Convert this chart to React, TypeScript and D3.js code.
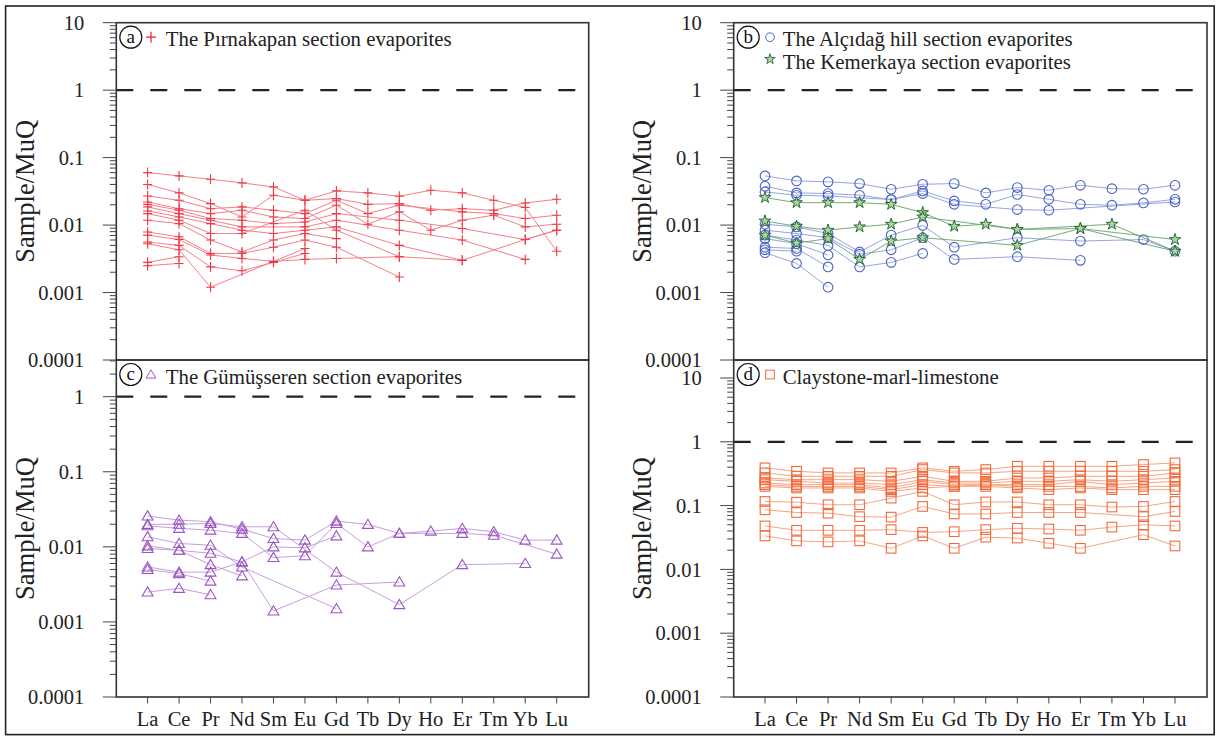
import React from "react";
import * as d3 from "d3";

// Rare earth elements along the x axis
const REE = ["La", "Ce", "Pr", "Nd", "Sm", "Eu", "Gd", "Tb", "Dy", "Ho", "Er", "Tm", "Yb", "Lu"];

// Decade tick values and labels of the log axis
const DECADES = [10, 1, 0.1, 0.01, 0.001, 0.0001];
const DECADE_LABELS = ["10", "1", "0.1", "0.01", "0.001", "0.0001"];

type Row = (number | null)[];

// (a) Pırnakapan section evaporites, Sample/MuQ
const PIRNAKAPAN: Row[] = [
  [0.06, 0.0536, 0.0478, 0.0422, 0.0368, 0.0233, 0.0321, 0.03, 0.0268, 0.0328, 0.03, 0.0233, 0.0182, 0.0041],
  [0.04, 0.03, 0.0208, 0.0132, 0.0277, 0.0233, 0.0247, 0.0203, 0.0208, 0.0166, 0.0175, 0.0166, 0.0213, 0.0241],
  [0.027, 0.0233, 0.0175, 0.0186, 0.0166, 0.0148, 0.0233, 0.0148, 0.0197, null, 0.0157, 0.0148, 0.0125, 0.014],
  [0.022, 0.0175, 0.0148, 0.0166, 0.0132, 0.0125, 0.0197, 0.0103, 0.0157, 0.0084, 0.0118, 0.014, 0.0094, 0.0103],
  [0.0203, 0.0166, 0.0125, 0.0118, 0.0105, 0.0111, 0.0148, null, 0.0118, null, 0.0089, null, 0.0061, 0.0084],
  [0.0186, 0.0148, 0.0118, 0.0094, null, 0.0094, 0.0118, null, 0.0084, null, 0.006, null, 0.0031, null],
  [0.0162, 0.0132, 0.0105, 0.0084, 0.0075, 0.0084, 0.0094, null, 0.005, null, 0.003, null, null, null],
  [0.0148, 0.0118, 0.0075, 0.0075, null, 0.0166, 0.0084, null, 0.0034, null, null, null, null, null],
  [0.0118, 0.0105, 0.006, 0.004, 0.006, 0.0075, 0.0063, null, null, null, null, null, null, null],
  [0.0079, 0.0067, 0.0038, 0.0038, 0.0047, 0.006, 0.0047, null, 0.0017, null, null, null, null, null],
  [0.0071, 0.0061, 0.0036, 0.0032, 0.0029, 0.0031, 0.0032, null, 0.0034, null, 0.003, null, 0.0061, 0.0084],
  [0.0056, 0.005, 0.0024, 0.0021, 0.0028, 0.0038, null, null, null, null, null, null, null, null],
  [0.0053, 0.0043, 0.0012, null, null, 0.0045, null, null, null, null, null, null, null, null],
  [0.0028, 0.0034, null, null, null, null, null, null, null, null, null, null, null, null],
  [0.0025, 0.0027, null, null, null, null, null, null, null, null, null, null, null, null],
];

// (b) Alçıdağ hill section evaporites
const ALCIDAG: Row[] = [
  [0.0536, 0.0452, 0.0437, 0.0412, 0.034, 0.0403, 0.0412, 0.03, 0.036, 0.0328, 0.0389, 0.0347, 0.034, 0.0389],
  [0.0376, 0.03, 0.0293, 0.0277, 0.0239, 0.0321, 0.0228, 0.0203, 0.0284, 0.0241, 0.0203, 0.0197, 0.0213, 0.0241],
  [0.031, 0.0277, 0.027, null, 0.0239, 0.0293, 0.0203, null, 0.017, 0.0166, null, null, null, 0.022],
  [0.0103, 0.0094, 0.0075, 0.004, 0.0071, 0.0099, 0.0047, null, 0.0065, null, 0.0058, null, 0.0061, 0.0041],
  [0.0084, 0.0075, 0.0065, 0.0037, 0.0043, 0.0065, 0.0031, null, 0.0034, null, 0.003, null, null, null],
  [0.0071, 0.006, 0.005, 0.0024, 0.0028, 0.0038, null, null, null, null, null, null, null, null],
  [0.0063, 0.0053, 0.0036, null, null, null, null, null, null, null, null, null, null, null],
  [0.0047, 0.0045, 0.0024, null, null, null, null, null, null, null, null, null, null, null],
  [0.0043, 0.0041, null, null, null, null, null, null, null, null, null, null, null, null],
  [0.0039, 0.0027, 0.0012, null, null, null, null, null, null, null, null, null, null, null],
];

// (b) Kemerkaya section evaporites
const KEMERKAYA: Row[] = [
  [0.0256, 0.0215, 0.0215, 0.0215, 0.0203, 0.0153, 0.0096, 0.0103, 0.0086, null, null, 0.0103, null, 0.0041],
  [0.0115, 0.0096, 0.0084, 0.0094, 0.0103, 0.0132, null, null, 0.0086, null, 0.0089, null, null, 0.0061],
  [0.0071, 0.0054, 0.0063, 0.0031, 0.0058, 0.0065, null, null, 0.005, null, 0.0089, null, null, 0.0041],
];

// (c) Gümüşseren section evaporites
const GUMUSSEREN: Row[] = [
  [0.0257, 0.0227, 0.0216, 0.0172, 0.0129, 0.0123, 0.022, 0.0199, 0.0151, 0.0162, 0.0176, 0.0159, 0.0123, 0.0123],
  [0.0199, 0.02, 0.0205, 0.0185, 0.0185, null, 0.0046, null, 0.0017, null, 0.0058, null, 0.006, null],
  [0.0191, 0.0176, 0.0167, 0.0151, 0.0072, 0.0076, 0.0205, 0.01, 0.0151, null, 0.0151, 0.0143, null, 0.008],
  [0.0136, 0.0111, 0.0105, 0.0054, null, null, 0.0015, null, null, null, null, null, null, null],
  [0.0103, 0.009, 0.0082, 0.0063, 0.0014, null, 0.0031, null, 0.0034, null, null, null, null, null],
  [0.0095, 0.009, 0.0058, 0.0041, null, null, null, null, null, null, null, null, null, null],
  [0.0054, 0.0046, 0.0046, 0.0063, 0.01, 0.0097, 0.014, null, null, null, null, null, null, null],
  [0.005, 0.0044, 0.0035, null, null, null, null, null, null, null, null, null, null, null],
  [0.0025, 0.0028, 0.0023, null, null, null, null, null, null, null, null, null, null, null],
];

// (d) Claystone-marl-limestone
const CLAYSTONE: Row[] = [
  [0.39, 0.345, 0.325, 0.325, 0.325, 0.39, 0.345, 0.367, 0.414, 0.414, 0.414, 0.414, 0.44, 0.467],
  [0.325, 0.288, 0.288, 0.288, 0.288, 0.367, 0.325, 0.325, 0.345, 0.345, 0.345, 0.345, 0.345, 0.367],
  [0.271, 0.255, 0.255, 0.255, 0.24, 0.288, 0.24, 0.24, 0.271, 0.271, 0.288, 0.288, 0.288, 0.325],
  [0.255, 0.24, 0.226, 0.226, 0.213, 0.255, 0.226, 0.226, 0.24, 0.24, 0.255, 0.24, 0.255, 0.271],
  [0.226, 0.213, 0.213, 0.213, 0.189, 0.24, 0.213, 0.213, 0.213, 0.213, 0.24, 0.213, 0.226, 0.24],
  [0.213, 0.2, 0.2, 0.2, 0.178, 0.213, 0.2, 0.213, 0.2, 0.2, 0.2, 0.189, 0.2, 0.2],
  [0.2, 0.189, 0.189, 0.189, 0.167, 0.189, 0.2, 0.2, 0.189, 0.178, 0.189, 0.178, 0.178, 0.178],
  [0.116, 0.113, 0.103, 0.103, 0.131, 0.167, 0.103, 0.114, 0.114, 0.103, 0.103, 0.095, 0.097, 0.116],
  [0.086, 0.078, 0.076, 0.067, 0.066, 0.097, 0.074, 0.074, 0.078, 0.078, 0.078, null, 0.067, 0.081],
  [0.048, 0.041, 0.041, 0.041, 0.042, 0.038, 0.039, 0.042, 0.044, 0.043, 0.041, 0.046, 0.05, 0.048],
  [0.0335, 0.028, 0.027, 0.028, 0.0214, 0.0335, 0.0214, 0.032, 0.031, 0.0257, 0.0214, null, 0.035, 0.0233],
];

const SERIF = "Liberation Serif, Tinos, Times New Roman, Times, Nimbus Roman, DejaVu Serif, serif";
const INK = "#222";

type MarkerKind = "plus" | "circle" | "star" | "triangle" | "square";

type Group = {
  rows: Row[];
  marker: MarkerKind;
  stroke: string;
  fill: string;
  line: string;
};

type LegendItem = { marker: MarkerKind; stroke: string; fill: string; text: string };

type PanelSpec = {
  letter: string;
  x0: number;
  x1: number;
  y0: number;
  y1: number;
  y: d3.ScaleLogarithmic<number, number>;
  showX: boolean;
  groups: Group[];
  legend: LegendItem[];
};

const starPath = d3.symbol().type(d3.symbolStar).size(42)() as string;

function Marker({ kind, x, y, stroke, fill, scale = 1 }: { kind: MarkerKind; x: number; y: number; stroke: string; fill: string; scale?: number }) {
  const t = `translate(${x},${y}) scale(${scale})`;
  switch (kind) {
    case "plus":
      return <path transform={t} d="M-4.5,0H4.5M0,-5V5" stroke={stroke} strokeWidth={1.1} fill="none" />;
    case "circle":
      return <circle transform={t} r={4.8} stroke={stroke} strokeWidth={1.1} fill={fill} />;
    case "star":
      return <path transform={t} d={starPath} stroke={stroke} strokeWidth={1} fill={fill} />;
    case "triangle":
      return <path transform={t} d="M0,-5.2L5.4,4L-5.4,4Z" stroke={stroke} strokeWidth={1.1} fill={fill} />;
    case "square":
      return <rect transform={t} x={-4.8} y={-4.8} width={9.6} height={9.6} stroke={stroke} strokeWidth={1.1} fill={fill} />;
  }
}

const redGroup: Group = { rows: PIRNAKAPAN, marker: "plus", stroke: "#f03a48", fill: "none", line: "#f36a74" };
const blueGroup: Group = { rows: ALCIDAG, marker: "circle", stroke: "#4a62c6", fill: "none", line: "#8497d8" };
const greenGroup: Group = { rows: KEMERKAYA, marker: "star", stroke: "#2a6a34", fill: "#a9d6a4", line: "#5f9d62" };
const purpleGroup: Group = { rows: GUMUSSEREN, marker: "triangle", stroke: "#9b58c2", fill: "none", line: "#bb8fd6" };
const orangeGroup: Group = { rows: CLAYSTONE, marker: "square", stroke: "#f26b3c", fill: "none", line: "#f5976f" };

const LEFT = [116.3, 588.7];
const RIGHT = [733.7, 1207];
const TOP = 22.7;
const MID = 360;
const BOTTOM = 697;

const PANELS: PanelSpec[] = [
  {
    letter: "a", x0: LEFT[0], x1: LEFT[1], y0: TOP, y1: MID,
    y: d3.scaleLog().domain([1e-4, 10]).range([MID, TOP]), showX: false,
    groups: [redGroup],
    legend: [{ marker: "plus", stroke: "#f01e2c", fill: "none", text: "The Pırnakapan section evaporites" }],
  },
  {
    letter: "b", x0: RIGHT[0], x1: RIGHT[1], y0: TOP, y1: MID,
    y: d3.scaleLog().domain([1e-4, 10]).range([MID, TOP]), showX: false,
    groups: [blueGroup, greenGroup],
    legend: [
      { marker: "circle", stroke: "#4a62c6", fill: "none", text: "The Alçıdağ hill section evaporites" },
      { marker: "star", stroke: "#2a6a34", fill: "#a9d6a4", text: "The Kemerkaya section evaporites" },
    ],
  },
  {
    letter: "c", x0: LEFT[0], x1: LEFT[1], y0: MID, y1: BOTTOM,
    y: d3.scaleLog().domain([1e-4, 1]).range([BOTTOM, 396.7]), showX: true,
    groups: [purpleGroup],
    legend: [{ marker: "triangle", stroke: "#9b58c2", fill: "none", text: "The Gümüşseren section evaporites" }],
  },
  {
    letter: "d", x0: RIGHT[0], x1: RIGHT[1], y0: MID, y1: BOTTOM,
    y: d3.scaleLog().domain([1e-4, 10]).range([BOTTOM, 378]), showX: true,
    groups: [orangeGroup],
    legend: [{ marker: "square", stroke: "#f26b3c", fill: "none", text: "Claystone-marl-limestone" }],
  },
];

function Panel({ p }: { p: PanelSpec }) {
  const x = d3.scalePoint<string>().domain(REE).range([p.x0 + 31.3, p.x1 - 32]);
  const y = p.y;
  const inside = (py: number) => py >= p.y0 - 0.6 && py <= p.y1 + 0.6;

  const minor: { py: number; major: boolean }[] = [];
  for (let e = -4; e <= 1; e++) {
    for (let k = 1; k <= 9; k++) {
      const py = y(k * Math.pow(10, e));
      if (inside(py)) minor.push({ py, major: k === 1 });
    }
  }

  const line = d3
    .line<[number, number]>()
    .x((d) => d[0])
    .y((d) => d[1]);

  const pts = (row: Row) =>
    row
      .map((v, i) => (v == null ? null : ([x(REE[i]) as number, y(v)] as [number, number])))
      .filter((d): d is [number, number] => d !== null);

  const one = y(1);
  const legendY = p.y0 + 14.5;
  const titleX = p.x0 - 92;
  const midY = (p.y0 + p.y1) / 2;
  const leftSide = p.letter === "a" || p.letter === "c";

  return (
    <g>
      {/* series lines */}
      {p.groups.map((g, gi) => (
        <g key={`l${gi}`} fill="none" stroke={g.line} strokeWidth={1} opacity={0.85}>
          {g.rows.map((r, ri) => (
            <path key={ri} d={line(pts(r)) || ""} />
          ))}
        </g>
      ))}
      {/* markers */}
      {p.groups.map((g, gi) => (
        <g key={`m${gi}`}>
          {g.rows.map((r, ri) =>
            pts(r).map((d, di) => (
              <Marker key={`${ri}-${di}`} kind={g.marker} x={d[0]} y={d[1]} stroke={g.stroke} fill={g.fill} />
            ))
          )}
        </g>
      ))}
      {/* reference line at 1 */}
      <line x1={p.x0} x2={p.x1} y1={one} y2={one} stroke={INK} strokeWidth={2.2} strokeDasharray="17,17" />
      {/* frame */}
      <rect x={p.x0} y={p.y0} width={p.x1 - p.x0} height={p.y1 - p.y0} fill="none" stroke="#333" strokeWidth={1.6} />
      {/* y ticks */}
      {minor.map((t, i) => (
        <line key={i} x1={p.x0 - (t.major ? 13.5 : 6.5)} x2={p.x0} y1={t.py} y2={t.py} stroke="#444" strokeWidth={1} />
      ))}
      {DECADES.map((v, i) => {
        const py = y(v);
        if (!inside(py)) return null;
        return (
          <text key={v} x={p.x0 - 32} y={py} dy="0.35em" textAnchor="end" fontSize={20.5} style={{ fontFamily: SERIF }} fill={INK}>
            {DECADE_LABELS[i]}
          </text>
        );
      })}
      <text
        transform={`translate(${titleX},${midY}) rotate(-90)`}
        textAnchor="middle"
        dy="0.35em"
        fontSize={26.5}
        style={{ fontFamily: SERIF }}
        fill={INK}
      >
        Sample/MuQ
      </text>
      {/* x axis */}
      {p.showX &&
        REE.map((el) => (
          <g key={el}>
            <line x1={x(el)} x2={x(el)} y1={p.y1} y2={p.y1 + 6.5} stroke="#444" strokeWidth={1} />
            <text x={x(el)} y={726} textAnchor="middle" fontSize={20.5} style={{ fontFamily: SERIF }} fill={INK}>
              {el}
            </text>
          </g>
        ))}
      {/* panel letter and legend */}
      <circle cx={p.x0 + 14.5} cy={legendY} r={11} fill="none" stroke="#111" strokeWidth={1.2} />
      <text x={p.x0 + 14.5} y={legendY} dy="0.3em" textAnchor="middle" fontSize={19} style={{ fontFamily: SERIF }} fill="#111">
        {p.letter}
      </text>
      {p.legend.map((it, i) => (
        <g key={i}>
          <Marker kind={it.marker} x={p.x0 + (leftSide ? 34.7 : 36.3)} y={legendY + i * 22} stroke={it.stroke} fill={it.fill} scale={it.marker === "plus" ? 1.1 : 0.9} />
          <text x={p.x0 + (leftSide ? 49.5 : 49)} y={legendY + 9.2 + i * 22.8} fontSize={20.8} style={{ fontFamily: SERIF }} fill={INK}>
            {it.text}
          </text>
        </g>
      ))}
    </g>
  );
}

export default function App() {
  return (
    <div style={{ position: "absolute", left: 0, top: 0 }}>
      <svg width={1219} height={736} viewBox="0 0 1219 736" style={{ display: "block", background: "#fff" }}>
        <rect x={0} y={0} width={1219} height={736} fill="#fff" />
        <rect x={5.6} y={6} width={1208.6} height={728.6} fill="none" stroke="#222" strokeWidth={1.6} />
        {PANELS.map((p) => (
          <Panel key={p.letter} p={p} />
        ))}
      </svg>
    </div>
  );
}
